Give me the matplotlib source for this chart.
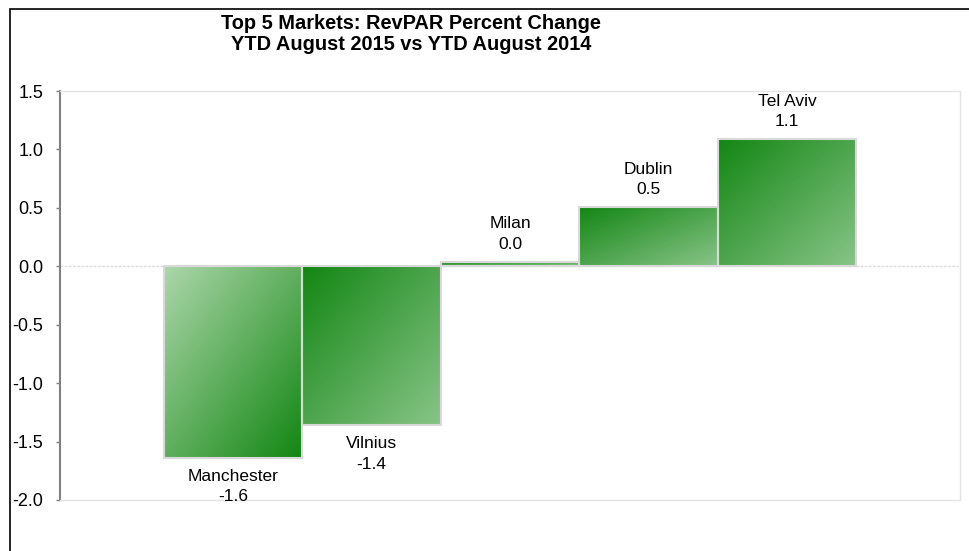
import numpy as np
import matplotlib
matplotlib.use("Agg")
from matplotlib import pyplot as plt
from matplotlib.colors import LinearSegmentedColormap
from matplotlib.patches import Rectangle

markets = ['Manchester', 'Vilnius', 'Milan', 'Dublin', 'Tel Aviv']
change = [-1.64, -1.36, 0.04, 0.51, 1.09]
y_ticks = [-2.0, -1.5, -1.0, -0.5, 0.0, 0.5, 1.0, 1.5]

plt.rcParams['font.family'] = ['Liberation Sans', 'DejaVu Sans']

W, H = 970, 551
fig = plt.figure(figsize=(W / 100, H / 100), dpi=100)
ax = fig.add_axes([60 / W, 1 - 500 / H, 900 / W, 409 / H])

dark = '#138613'
light = '#acd6aa'
light2 = '#88c488'
cmap_down = LinearSegmentedColormap.from_list('g1', [light, dark])
cmap_up = LinearSegmentedColormap.from_list('g2', [dark, light2])

x = np.arange(len(markets))
bars = ax.bar(x, change, width=1.0, facecolor='none', edgecolor='#d9d9d9',
              linewidth=1.5, zorder=3)

# diagonal gradient, top-left to bottom-right
gx, gy = np.meshgrid(np.linspace(0, 1, 120), np.linspace(0, 1, 120))
grad = (gx + gy) / 2
for i, b in enumerate(bars):
    x0, y0 = b.get_x(), b.get_y()
    x1, y1 = x0 + b.get_width(), y0 + b.get_height()
    cmap = cmap_down if i == 0 else cmap_up
    im = ax.imshow(grad, cmap=cmap, extent=(x0, x1, min(y0, y1), max(y0, y1)),
                   origin='upper', aspect='auto', zorder=2, interpolation='bilinear')
    im.set_clip_path(b)

for i, v in enumerate(change):
    txt = '%s\n%.1f' % (markets[i], v)
    if v >= 0:
        ax.annotate(txt, (x[i], v), xytext=(0, 7), textcoords='offset points',
                    ha='center', va='bottom', fontsize=12.5, linespacing=1.45)
    else:
        ax.annotate(txt, (x[i], v), xytext=(0, -8), textcoords='offset points',
                    ha='center', va='top', fontsize=12.5, linespacing=1.45)

ax.set_xlim(-1.25, 5.25)
ax.set_ylim(-2.0, 1.5)
ax.set_yticks(y_ticks)
ax.set_yticklabels(['%.1f' % t for t in y_ticks])
ax.set_xticks([])
ax.tick_params(axis='y', direction='out', length=3, width=1, color='#808080',
               labelsize=13, pad=9)

for s in ['top', 'right', 'bottom']:
    ax.spines[s].set_color('#e3e3e3')
    ax.spines[s].set_linestyle((0, (2, 1)))
    ax.spines[s].set_linewidth(1)
ax.spines['left'].set_color('#808080')
ax.spines['left'].set_linewidth(1.5)
ax.axhline(0, color='#dcdcdc', linewidth=1, linestyle=(0, (2, 1)), zorder=1)

fig.text(411 / W, 1 - 14 / H,
         'Top 5 Markets: RevPAR Percent Change\nYTD August 2015 vs YTD August 2014',
         ha='center', va='top', fontsize=14.4, fontweight='bold', linespacing=1.12)

# chart frame
fig.patches.append(Rectangle((10 / W, -0.05), 1.1, 1 - 9 / H + 0.05, transform=fig.transFigure,
                             fill=False, edgecolor='black', linewidth=1.2))

fig.savefig('out.png', dpi=100)
